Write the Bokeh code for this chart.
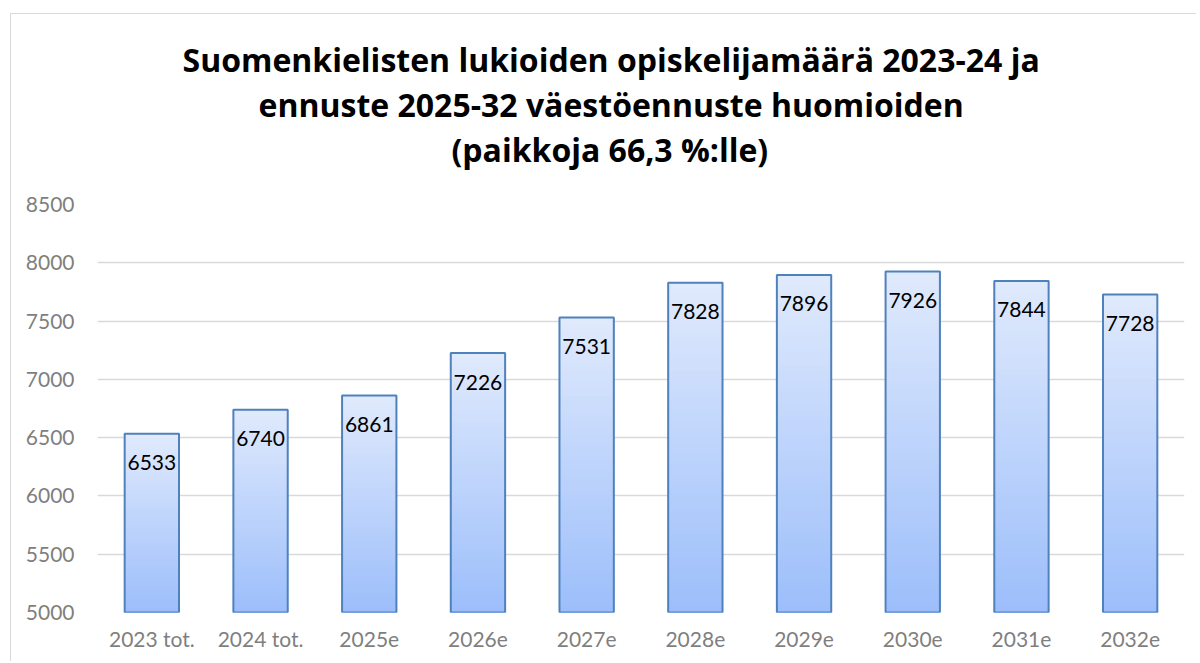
from bokeh.plotting import figure
from bokeh.models import Range1d, Title, ColumnDataSource, SingleIntervalTicker, LabelSet
from bokeh.core.properties import value
from bokeh.embed import file_html
from bokeh.resources import INLINE

categories = ["2023 tot.", "2024 tot.", "2025e", "2026e", "2027e", "2028e", "2029e", "2030e", "2031e", "2032e"]
values = [6533, 6740, 6861, 7226, 7531, 7828, 7896, 7926, 7844, 7728]
title_lines = [
    "Suomenkielisten lukioiden opiskelijamäärä 2023-24 ja",
    "ennuste 2025-32 väestöennuste huomioiden",
    "(paikkoja 66,3 %:lle)",
]
title_offsets = [85, 161, 354]
y_start, y_end = 5000, 8500

FONT = "Lato"
TITLE_FONT = "Open Sans"
TOP_COL = (0xE0, 0xEA, 0xFD)
BOT_COL = (0x9C, 0xBE, 0xFB)

p = figure(width=1186, height=648, x_range=categories, y_range=Range1d(y_start, y_end),
           output_backend="svg", toolbar_location=None, title=None,
           min_border_left=86, min_border_right=13, min_border_bottom=50, min_border_top=0)
p.outline_line_color = None
p.background_fill_color = "white"
p.border_fill_color = "white"
p.styles = {"margin-left": "10px", "margin-top": "13px",
            "border-left": "1.5px solid #d9d9d9", "border-top": "1.5px solid #d9d9d9"}

# spacer between the frame and the title block
p.add_layout(Title(text=" ", text_font_size="29px", standoff=0), "above")
# titles (added bottom line first so that the first line ends up on top)
for line, off in reversed(list(zip(title_lines, title_offsets))):
    t = Title(text=line, align="left", text_font=TITLE_FONT, text_font_style="bold",
              text_font_size="32px", text_color="black", standoff=0, offset=off)
    p.add_layout(t, "above")
# spacer above the title block
p.add_layout(Title(text=" ", text_font_size="17px", standoff=0), "above")

# gradient bars drawn as nested slices, lightest (full height) first
N = 60
for k in range(N):
    frac = 1 - k / N
    r = int(TOP_COL[0] + (BOT_COL[0] - TOP_COL[0]) * (1 - frac))
    g = int(TOP_COL[1] + (BOT_COL[1] - TOP_COL[1]) * (1 - frac))
    b = int(TOP_COL[2] + (BOT_COL[2] - TOP_COL[2]) * (1 - frac))
    tops = [y_start + (v - y_start) * frac for v in values]
    p.vbar(x=categories, top=tops, bottom=y_start, width=0.5,
           fill_color="#%02x%02x%02x" % (r, g, b), line_color=None)

src = ColumnDataSource(dict(x=categories, top=values, lab=[str(v) for v in values]))
p.vbar(x="x", top="top", bottom=y_start, width=0.5, source=src,
       fill_color=None, line_color="#4f81bd", line_width=2)

labels = LabelSet(x="x", y="top", text="lab", source=src, text_align="center",
                  text_baseline="middle", y_offset=-29, text_font=value(FONT),
                  text_font_size=value("21px"), text_color=value("black"))
p.add_layout(labels)

p.yaxis.ticker = SingleIntervalTicker(interval=500)
p.ygrid.ticker = SingleIntervalTicker(interval=500)
p.ygrid.grid_line_color = "#d9d9d9"
p.ygrid.grid_line_width = 1.5
p.xgrid.grid_line_color = None

for ax in (p.xaxis, p.yaxis):
    ax.axis_line_color = None
    ax.major_tick_line_color = None
    ax.minor_tick_line_color = None
    ax.major_label_text_font = FONT
    ax.major_label_text_font_size = "21px"
    ax.major_label_text_color = "#7f7f7f"
p.yaxis.major_label_standoff = 17
p.xaxis.major_label_standoff = 7
p.yaxis.formatter.use_scientific = False

open("out.html", "w").write(file_html(p, INLINE))
